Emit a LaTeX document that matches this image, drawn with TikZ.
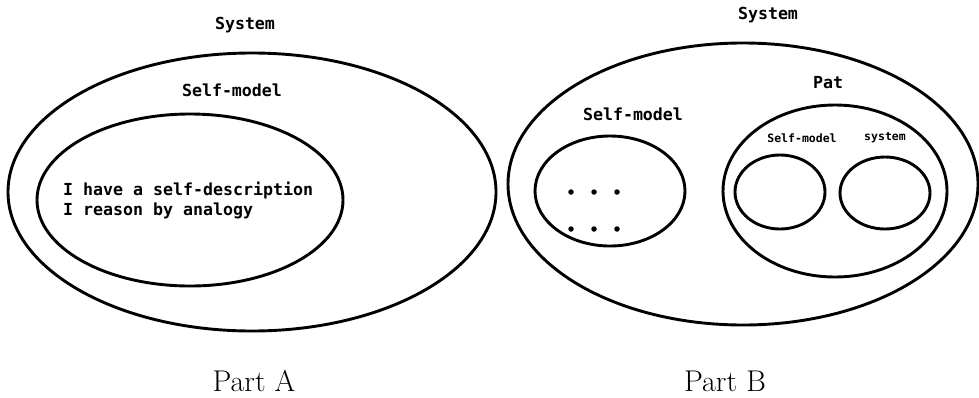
\documentclass[tikz,border=0pt]{standalone}
\usepackage{fontspec}
\newfontfamily\labfont{DejaVu Sans Mono}
\usetikzlibrary{shapes.geometric}
\tikzset{
  ring/.style={draw, ellipse, line width=2.9pt, inner sep=0pt, outer sep=0pt},
  biglab/.style={font=\labfont\bfseries\fontsize{16.6}{20}\selectfont, inner sep=0pt},
  smalllab/.style={font=\labfont\bfseries\fontsize{11.5}{13}\selectfont, inner sep=0pt},
  partlab/.style={font=\fontsize{30}{32}\selectfont, inner sep=0pt},
  dot/.style={circle, fill, inner sep=0pt, minimum size=5.5pt}
}
\begin{document}
\begin{tikzpicture}[x=1pt,y=-1pt]
\useasboundingbox (0,0) rectangle (979,397);
% Part A
\node[ring, minimum width=488pt, minimum height=278pt] (sysA) at (252,192) {};
\node[ring, minimum width=306pt, minimum height=172pt] (smA) at (190,200) {};
\node[biglab] (sysAlab) at (245,25) {System};
\node[biglab] (smAlab) at (232,90) {Self-model};
\node[biglab, anchor=west, align=left] (txtA) at (63,200) {I have a self-description\\I reason by analogy};
\node[partlab] (partA) at (254,381) {Part A};
% Part B
\node[ring, minimum width=470pt, minimum height=282pt] (sysB) at (743,184) {};
\node[biglab] (sysBlab) at (768,15) {System};
\node[ring, minimum width=150pt, minimum height=110pt] (smB) at (610,191) {};
\node[biglab] (smBlab) at (633,114) {Self-model};
\node[dot] (d1) at (571,192) {};
\node[dot] (d2) at (594,192) {};
\node[dot] (d3) at (617,192) {};
\node[dot] (d4) at (571,229) {};
\node[dot] (d5) at (594,229) {};
\node[dot] (d6) at (617,229) {};
\node[ring, minimum width=224pt, minimum height=172pt] (pat) at (835,191) {};
\node[biglab] (patlab) at (828,83) {Pat};
\node[ring, minimum width=90pt, minimum height=74pt] (psm) at (780,192) {};
\node[ring, minimum width=90pt, minimum height=72pt] (psys) at (885,193) {};
\node[smalllab] (psmlab) at (802,138) {Self-model};
\node[smalllab] (psyslab) at (885,138) {system};
\node[partlab] (partB) at (725,381) {Part B};
\end{tikzpicture}
\end{document}
